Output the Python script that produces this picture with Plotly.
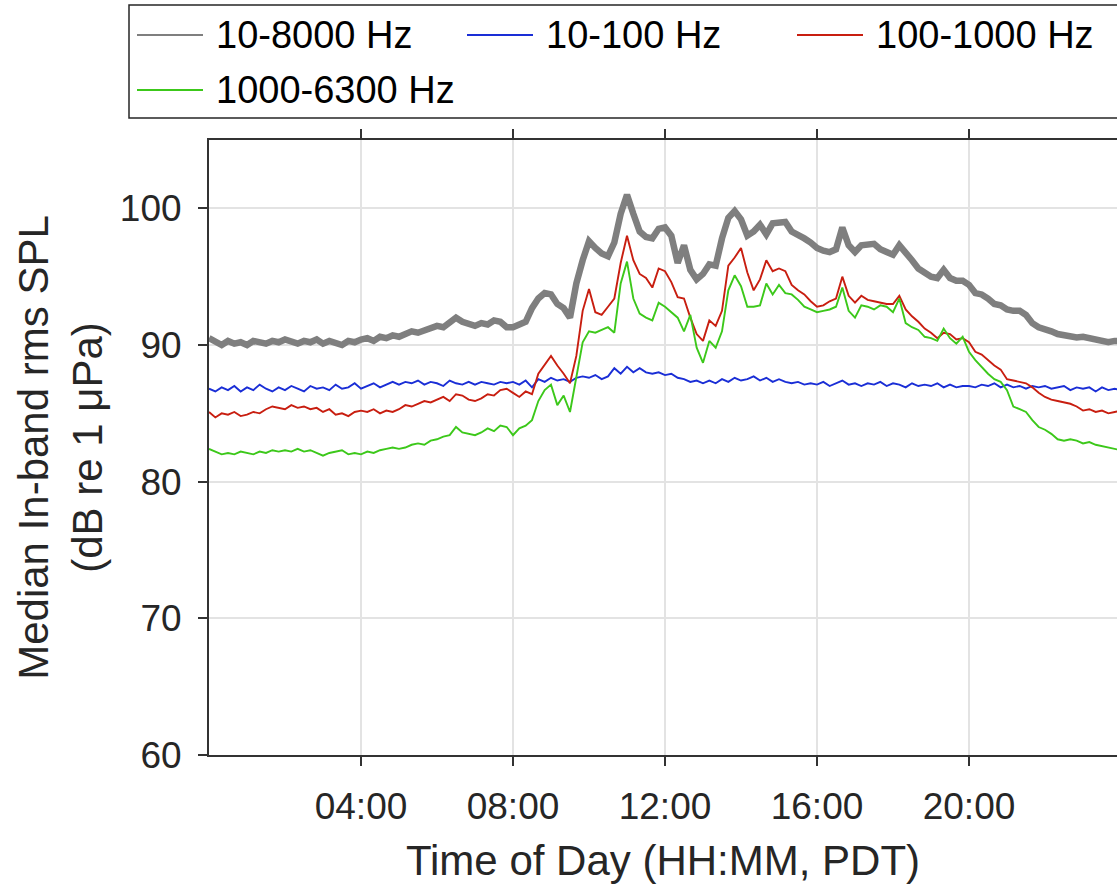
import plotly.graph_objects as go

# Median in-band rms SPL, sampled every 10 minutes from 00:00 to 24:00 (PDT)
spl_10_8000 = [
    90.5, 90.2, 90.0, 90.3, 90.1, 90.2,
    90.0, 90.3, 90.2, 90.1, 90.3, 90.2,
    90.4, 90.2, 90.1, 90.3, 90.2, 90.4,
    90.1, 90.3, 90.2, 90.0, 90.3, 90.2,
    90.4, 90.5, 90.3, 90.6, 90.5, 90.7,
    90.6, 90.8, 91.0, 90.9, 91.1, 91.2,
    91.4, 91.3, 91.6, 92.0, 91.7, 91.6,
    91.4, 91.6, 91.5, 91.8, 91.7, 91.3,
    91.3, 91.5, 91.7, 92.7, 93.4, 93.8,
    93.7, 93.0, 92.7, 92.0, 94.5, 96.2,
    97.6, 97.1, 96.7, 96.5, 97.5, 99.6,
    101.0, 99.6, 98.3, 97.9, 97.8, 98.5,
    98.6, 98.0, 96.0, 97.3, 95.5, 94.8,
    95.2, 95.9, 95.8, 97.8, 99.3, 99.8,
    99.2, 98.0, 98.3, 98.8, 98.1, 98.9,
    98.9, 99.0, 98.3, 98.1, 97.8, 97.5,
    97.1, 96.9, 96.8, 97.0, 98.6, 97.3,
    96.8, 97.3, 97.3, 97.4, 97.0, 96.8,
    96.6, 97.3, 96.8, 96.2, 95.6, 95.3,
    95.0, 94.9, 95.5, 94.9, 94.7, 94.7,
    94.4, 93.8, 93.7, 93.4, 93.0, 92.9,
    92.6, 92.5, 92.5, 92.2, 91.6, 91.3,
    91.2, 91.0, 90.8, 90.7, 90.6, 90.55,
    90.6, 90.5, 90.4, 90.3, 90.2, 90.3,
    90.3,
]

spl_10_100 = [
    86.8, 86.6, 86.9, 86.7, 87.0, 86.6,
    86.9, 86.7, 87.1, 86.8, 86.6, 86.9,
    86.7, 87.0, 86.8, 86.6, 87.0, 86.8,
    86.9, 86.7, 87.1, 86.8, 86.9, 87.2,
    86.8, 87.0, 87.2, 86.9, 87.1, 87.3,
    87.1, 87.3, 87.2, 87.4, 87.1, 87.3,
    87.2, 87.0, 87.4, 87.2, 87.1, 87.3,
    87.1, 87.3, 87.2, 87.1, 87.3, 87.2,
    87.3, 87.1, 87.4, 86.9, 87.5, 87.3,
    87.6, 87.4, 87.5, 87.3, 87.6, 87.7,
    87.6, 87.8, 87.5, 87.7, 88.3, 87.9,
    88.4, 88.0, 88.3, 88.0, 87.9, 88.0,
    87.8, 87.9, 87.6, 87.5, 87.3, 87.4,
    87.2, 87.4, 87.2, 87.5, 87.3, 87.6,
    87.4, 87.5, 87.7, 87.4, 87.6, 87.3,
    87.5, 87.3, 87.2, 87.3, 87.1, 87.2,
    87.1, 87.3, 87.0, 87.2, 87.4, 87.1,
    87.2, 87.0, 87.2, 87.1, 87.3, 87.0,
    87.2, 87.1, 86.9, 87.2, 87.0, 87.1,
    87.0, 87.2, 86.9, 87.1, 86.9, 87.0,
    87.0, 86.9, 87.1, 87.0, 87.2, 86.9,
    87.1, 86.9, 87.0, 86.8, 87.0, 86.9,
    87.0, 86.8, 86.9, 87.0, 86.7, 86.9,
    86.8, 86.9, 86.6, 86.9, 86.7, 86.8,
    86.7,
]

spl_100_1000 = [
    85.1, 84.7, 85.0, 84.9, 85.1, 84.8,
    84.9, 85.1, 85.0, 85.3, 85.5, 85.4,
    85.3, 85.6, 85.4, 85.5, 85.3, 85.4,
    85.1, 85.3, 84.9, 85.0, 84.8, 85.1,
    85.2, 85.1, 85.3, 85.0, 85.2, 85.1,
    85.3, 85.6, 85.5, 85.7, 85.9, 85.8,
    86.0, 86.2, 85.9, 86.4, 86.3, 86.0,
    85.9, 86.1, 86.4, 86.3, 86.7, 86.8,
    86.5, 86.2, 86.6, 86.4, 87.9, 88.6,
    89.2, 88.5, 87.9, 87.2, 89.2, 92.5,
    94.1, 92.4, 92.2, 92.8, 93.4, 96.0,
    98.0, 96.2, 95.2, 94.9, 94.2, 95.6,
    95.4, 94.6, 93.5, 93.4, 92.0, 90.8,
    90.3, 91.8, 91.4, 92.5, 95.8, 96.4,
    97.1, 95.3, 94.0, 94.8, 96.2, 95.4,
    95.6, 95.4, 94.4, 94.0, 93.7, 93.2,
    92.8, 92.9, 93.2, 93.4, 95.0, 93.6,
    93.1, 93.6, 93.3, 93.2, 93.1, 93.0,
    93.0, 93.6, 92.6, 92.1, 91.7, 91.2,
    90.9, 90.5, 90.9, 90.8, 90.4, 90.5,
    90.2, 89.5, 89.3, 88.9, 88.5, 88.2,
    87.5, 87.4, 87.3, 87.2, 86.9, 86.5,
    86.2, 86.0, 85.9, 85.8, 85.7, 85.5,
    85.2, 85.3, 85.1, 85.2, 85.0, 85.1,
    85.2,
]

spl_1000_6300 = [
    82.4, 82.2, 82.0, 82.1, 82.0, 82.2,
    82.1, 82.0, 82.2, 82.1, 82.3, 82.2,
    82.3, 82.2, 82.4, 82.2, 82.3, 82.1,
    81.9, 82.1, 82.2, 82.3, 82.0, 82.1,
    82.0, 82.2, 82.1, 82.3, 82.4, 82.5,
    82.4, 82.5, 82.7, 82.8, 82.7, 83.0,
    83.1, 83.3, 83.4, 84.0, 83.6, 83.5,
    83.4, 83.6, 83.9, 83.7, 84.1, 84.0,
    83.4, 83.9, 84.1, 84.5, 85.9, 86.7,
    87.1, 85.6, 86.3, 85.1, 87.6, 90.2,
    91.0, 90.9, 91.1, 91.3, 90.9, 94.5,
    96.1, 93.4, 92.3, 92.0, 91.8, 93.1,
    92.8, 92.4, 92.0, 91.0, 92.2, 89.8,
    88.7, 90.3, 89.8, 91.0, 94.0, 95.1,
    94.3, 92.8, 92.8, 92.9, 94.5, 93.7,
    94.4, 93.8, 93.7, 93.3, 92.8, 92.6,
    92.4, 92.5, 92.6, 92.8, 94.2, 92.5,
    92.0, 92.9, 92.8, 92.6, 92.9, 92.8,
    92.4, 93.4, 91.6, 91.3, 91.1, 90.6,
    90.5, 90.3, 91.2, 90.5, 90.1, 90.6,
    89.5, 88.9, 88.4, 87.9, 87.5, 87.3,
    86.7, 85.5, 85.3, 85.1, 84.5, 84.0,
    83.8, 83.5, 83.1, 83.0, 83.1, 83.0,
    82.8, 82.9, 82.7, 82.6, 82.5, 82.4,
    82.3,
]

band_names = ["10-8000 Hz", "10-100 Hz", "100-1000 Hz", "1000-6300 Hz"]
band_colors = ["#7f7f7f", "#1a2ed6", "#c81e10", "#3cc81a"]
band_widths = [6.5, 1.9, 1.9, 1.9]

tick_hours = [4, 8, 12, 16, 20]
tick_labels = ["04:00", "08:00", "12:00", "16:00", "20:00"]
y_ticks = [60, 70, 80, 90, 100]

hours = [i / 6 for i in range(len(spl_10_8000))]
series = [spl_10_8000, spl_10_100, spl_100_1000, spl_1000_6300]

W, H = 1117, 884
L, T, B = 209, 140, 129
PLOT_W = W - L
PLOT_H = H - T - B

FONT = "Liberation Sans, Arial, sans-serif"

fig = go.Figure()
for name, vals, col, lw in zip(band_names, series, band_colors, band_widths):
    fig.add_trace(go.Scatter(x=hours, y=vals, mode="lines", name=name,
                             line=dict(color=col, width=lw), showlegend=False))


def px_x(px):
    return (px - L) / PLOT_W


def px_y(py):
    return (H - B - py) / PLOT_H


# legend box drawn in pixel positions above the plot area
shapes = [dict(type="rect", xref="paper", yref="paper",
               x0=px_x(129), x1=px_x(1130), y0=px_y(118), y1=px_y(5),
               line=dict(color="#262626", width=1.5), fillcolor="white", layer="above")]
annotations = []
legend_slots = [(137, 35), (467, 35), (797, 35), (137, 90)]
for (lx, ly), name, col in zip(legend_slots, band_names, band_colors):
    shapes.append(dict(type="line", xref="paper", yref="paper",
                       x0=px_x(lx), x1=px_x(lx + 66), y0=px_y(ly), y1=px_y(ly),
                       line=dict(color=col, width=1.8), layer="above"))
    annotations.append(dict(xref="paper", yref="paper", x=px_x(lx + 77), y=px_y(ly),
                            xanchor="left", yanchor="middle", showarrow=False,
                            text=name, font=dict(family=FONT, size=38, color="black")))

fig.update_layout(
    width=W, height=H,
    margin=dict(l=L, r=0, t=T, b=B, pad=0),
    paper_bgcolor="white", plot_bgcolor="white",
    font=dict(family=FONT, size=37, color="#262626"),
    shapes=shapes, annotations=annotations,
)

fig.update_xaxes(
    range=[0, 24 * PLOT_W / 912], tickmode="array", tickvals=tick_hours, ticktext=tick_labels,
    showline=True, linecolor="#333333", linewidth=2, mirror="allticks",
    ticks="outside", ticklen=9, tickwidth=1.5, tickcolor="#333333",
    showgrid=True, gridcolor="#e3e3e3", gridwidth=2, zeroline=False,
    ticklabelstandoff=9,
    title=dict(text="Time of Day (HH:MM, PDT)", font=dict(size=42, color="#262626"), standoff=19),
)
fig.update_yaxes(
    range=[60, 105], tickvals=y_ticks,
    showline=True, linecolor="#333333", linewidth=2, mirror=False,
    ticks="outside", ticklen=9, tickwidth=1.5, tickcolor="#333333",
    showgrid=True, gridcolor="#e3e3e3", gridwidth=2, zeroline=False,
    ticklabelstandoff=9,
    title=dict(text="Median In-band rms SPL<br>(dB re 1 μPa)", font=dict(size=42, color="#262626"),
               standoff=4),
)

fig.write_html("out.html")
